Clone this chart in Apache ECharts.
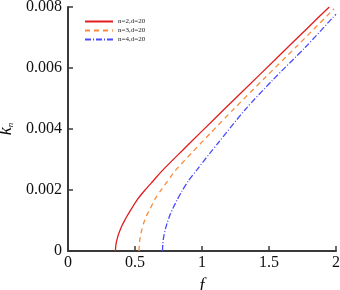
<!DOCTYPE html>
<html>
<head>
<meta charset="utf-8">
<script src="https://cdn.jsdelivr.net/npm/echarts@6/dist/echarts.min.js"></script>
<style>
  html, body { margin: 0; padding: 0; background: #fff; }
  #main { width: 340px; height: 290px; }
</style>
</head>
<body>
<div id="main"></div>
<script type="text/javascript">
    // values
    var fN2 = [0.354, 0.356, 0.36, 0.367, 0.377, 0.389, 0.405, 0.42, 0.44, 0.463, 0.52, 0.575, 0.64, 0.70, 0.85, 1.0, 1.173, 1.435, 1.659, 1.883, 1.95];
    var kN2 = [0, 0.00015, 0.00027, 0.0004, 0.00055, 0.00069, 0.00085, 0.00098, 0.00114, 0.00131, 0.0017, 0.002, 0.00232, 0.00262, 0.00328, 0.00393, 0.00468, 0.0058, 0.00676, 0.00772, 0.008];
    var fN3 = [0.53, 0.532, 0.536, 0.543, 0.552, 0.565, 0.585, 0.613, 0.65, 0.70, 0.80, 0.935, 1.06, 1.236, 1.47, 1.709, 1.933, 1.985];
    var kN3 = [0, 0.00021, 0.00037, 0.00055, 0.00072, 0.00092, 0.00115, 0.00138, 0.00171, 0.00203, 0.00263, 0.00327, 0.00385, 0.00465, 0.00568, 0.00672, 0.00771, 0.00794];
    var fN4 = [0.705, 0.707, 0.711, 0.718, 0.727, 0.74, 0.76, 0.785, 0.815, 0.85, 0.90, 0.962, 1.061, 1.12, 1.323, 1.522, 1.771, 1.978, 2.0];
    var kN4 = [0, 0.00021, 0.00037, 0.00055, 0.00072, 0.00092, 0.00117, 0.00142, 0.00168, 0.00196, 0.00231, 0.00266, 0.00322, 0.00354, 0.00464, 0.00558, 0.00668, 0.00766, 0.00776];
    var names = ['n=2,d=20', 'n=3,d=20', 'n=4,d=20'];

    function pairs(xs, ys) {
        return xs.map(function (x, i) { return [x, ys[i]]; });
    }

    var font = 'Liberation Serif';
    var axisCol = '#3a3a3a';

    var myChart = echarts.init(document.getElementById('main'));
    myChart.setOption({
        animation: false,
        textStyle: { fontFamily: font },
        grid: { left: 68, right: 4, top: 7, bottom: 39, containLabel: false, outerBoundsMode: 'none' },
        legend: {
            orient: 'vertical',
            left: 79,
            top: 13,
            itemWidth: 28,
            itemHeight: 6,
            itemGap: 2,
            data: names,
            itemStyle: { color: 'transparent', borderWidth: 0 },
            textStyle: { fontFamily: font, fontSize: 7, color: '#222' }
        },
        xAxis: {
            type: 'value',
            min: 0, max: 2, interval: 0.5,
            name: 'f',
            nameLocation: 'middle',
            nameGap: 26,
            nameTextStyle: { fontFamily: font, fontStyle: 'italic', fontSize: 18, color: '#111' },
            axisLine: { lineStyle: { color: axisCol, width: 2 } },
            axisTick: { inside: true, length: 5, lineStyle: { color: axisCol, width: 1.5 } },
            axisLabel: { fontFamily: font, fontSize: 16, color: '#111', margin: 4 },
            splitLine: { show: false }
        },
        yAxis: {
            type: 'value',
            min: 0, max: 0.008, interval: 0.002,
            name: '{k|k}{n|n}',
            nameLocation: 'middle',
            nameRotate: 90,
            nameGap: 46,
            nameTextStyle: {
                rich: {
                    k: { fontFamily: font, fontStyle: 'italic', fontSize: 18, color: '#111' },
                    n: { fontFamily: font, fontStyle: 'italic', fontSize: 9, color: '#111', verticalAlign: 'bottom', padding: [6, 0, 0, 0] }
                }
            },
            axisLine: { lineStyle: { color: axisCol, width: 2 } },
            axisTick: { inside: true, length: 5, lineStyle: { color: axisCol, width: 1.5 } },
            axisLabel: {
                fontFamily: font, fontSize: 16, color: '#111', margin: 6,
                formatter: function (v) { return v === 0 ? '0' : v.toFixed(3); }
            },
            splitLine: { show: false }
        },
        series: [
            {
                name: names[0], type: 'line', smooth: 0.25, showSymbol: false, symbol: 'none',
                data: pairs(fN2, kN2),
                lineStyle: { color: '#e01e1e', width: 1.3, type: 'solid' },
                itemStyle: { color: '#e01e1e' }
            },
            {
                name: names[1], type: 'line', smooth: 0.25, showSymbol: false, symbol: 'none',
                data: pairs(fN3, kN3),
                lineStyle: { color: '#fa8a3a', width: 1.3, type: [5, 4] },
                itemStyle: { color: '#fa8a3a' }
            },
            {
                name: names[2], type: 'line', smooth: 0.25, showSymbol: false, symbol: 'none',
                data: pairs(fN4, kN4),
                lineStyle: { color: '#4a4aff', width: 1.3, type: [6, 2, 1, 2] },
                itemStyle: { color: '#4a4aff' }
            }
        ]
    });
</script>
</body>
</html>
